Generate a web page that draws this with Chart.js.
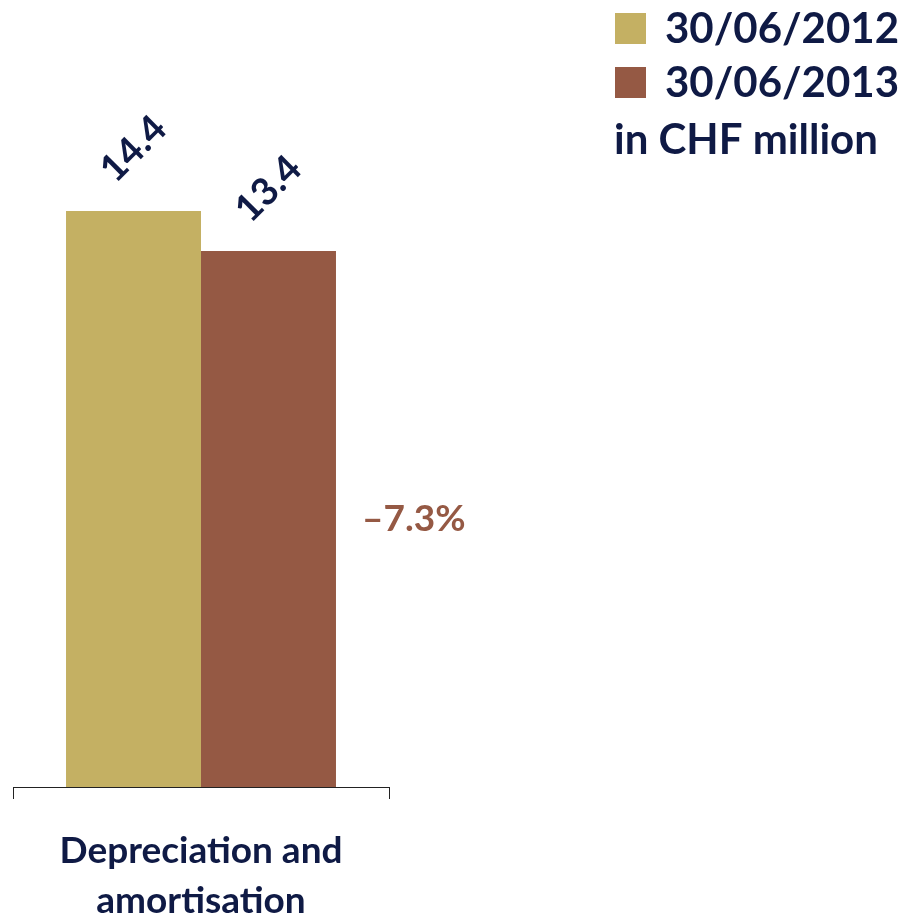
<!DOCTYPE html>
<html>
<head>
<meta charset="utf-8">
<script src="https://cdn.jsdelivr.net/npm/chart.js@4/dist/chart.umd.min.js"></script>
<style>
  html, body { margin: 0; padding: 0; background: #ffffff; }
  #wrap { width: 901px; height: 916px; position: relative; }
</style>
</head>
<body>
<div id="wrap"><canvas id="chart"></canvas></div>
<script>
// Data
const categories = [['Depreciation and', 'amortisation']];
const seriesNames = ['30/06/2012', '30/06/2013'];
const values2012 = [14.4];
const values2013 = [13.4];
const changeLabels = ['\u20137.3%'];
const unitLabel = 'in CHF million';

const NAVY = '#0f1a45';
const GOLD = '#c4b063';
const BROWN = '#955944';
const FONT = 'Lato, "Open Sans", sans-serif';

// Rotated value labels above each bar, change label beside the second bar
const annotations = {
  id: 'annotations',
  afterDatasetsDraw(chart) {
    const ctx = chart.ctx;
    chart.data.datasets.forEach((ds, i) => {
      const meta = chart.getDatasetMeta(i);
      meta.data.forEach((bar, j) => {
        ctx.save();
        ctx.translate(bar.x, bar.y - 62);
        ctx.rotate(-Math.PI / 4);
        ctx.font = 'bold 38px ' + FONT;
        ctx.fillStyle = NAVY;
        ctx.textAlign = 'center';
        ctx.textBaseline = 'middle';
        ctx.fillText(ds.data[j].toFixed(1), 0, 0);
        ctx.restore();
      });
    });
    const last = chart.getDatasetMeta(1);
    last.data.forEach((bar, j) => {
      const right = bar.x + bar.width / 2;
      ctx.save();
      ctx.font = 'bold 37px ' + FONT;
      ctx.fillStyle = BROWN;
      ctx.textAlign = 'left';
      ctx.textBaseline = 'middle';
      ctx.fillText(changeLabels[j], right + 26, (bar.y + bar.base) / 2);
      ctx.restore();
    });
  }
};

// Legend block in the top-right corner
const legendBlock = {
  id: 'legendBlock',
  afterDraw(chart) {
    const ctx = chart.ctx;
    const colors = [GOLD, BROWN];
    ctx.save();
    ctx.font = 'bold 42px ' + FONT;
    ctx.textBaseline = 'middle';
    ctx.textAlign = 'left';
    seriesNames.forEach((name, i) => {
      const y = 13 + i * 54;
      ctx.fillStyle = colors[i];
      ctx.fillRect(615, y, 31, 31);
      ctx.fillStyle = NAVY;
      ctx.fillText(name, 665, y + 16);
    });
    ctx.fillText(unitLabel, 614, 140);
    ctx.restore();
  }
};

new Chart(document.getElementById('chart'), {
  type: 'bar',
  data: {
    labels: categories,
    datasets: [
      { label: seriesNames[0], data: values2012, backgroundColor: GOLD },
      { label: seriesNames[1], data: values2013, backgroundColor: BROWN }
    ]
  },
  options: {
    responsive: true,
    maintainAspectRatio: false,
    animation: false,
    layout: { padding: { left: 13, right: 512, top: 67, bottom: 0 } },
    datasets: { bar: { categoryPercentage: 0.718, barPercentage: 1 } },
    plugins: { legend: { display: false }, tooltip: { enabled: false } },
    scales: {
      y: { display: false, min: 0, max: 18 },
      x: {
        afterFit(scale) { scale.height = 129; },
        border: { display: true, color: '#222222', width: 1 },
        grid: { display: true, offset: true, drawOnChartArea: false, drawTicks: true, tickLength: 12, color: '#222222' },
        ticks: {
          color: NAVY,
          padding: 27,
          font: { family: FONT, size: 37, weight: 'bold', lineHeight: 1.35 }
        }
      }
    }
  },
  plugins: [annotations, legendBlock]
});
</script>
</body>
</html>
